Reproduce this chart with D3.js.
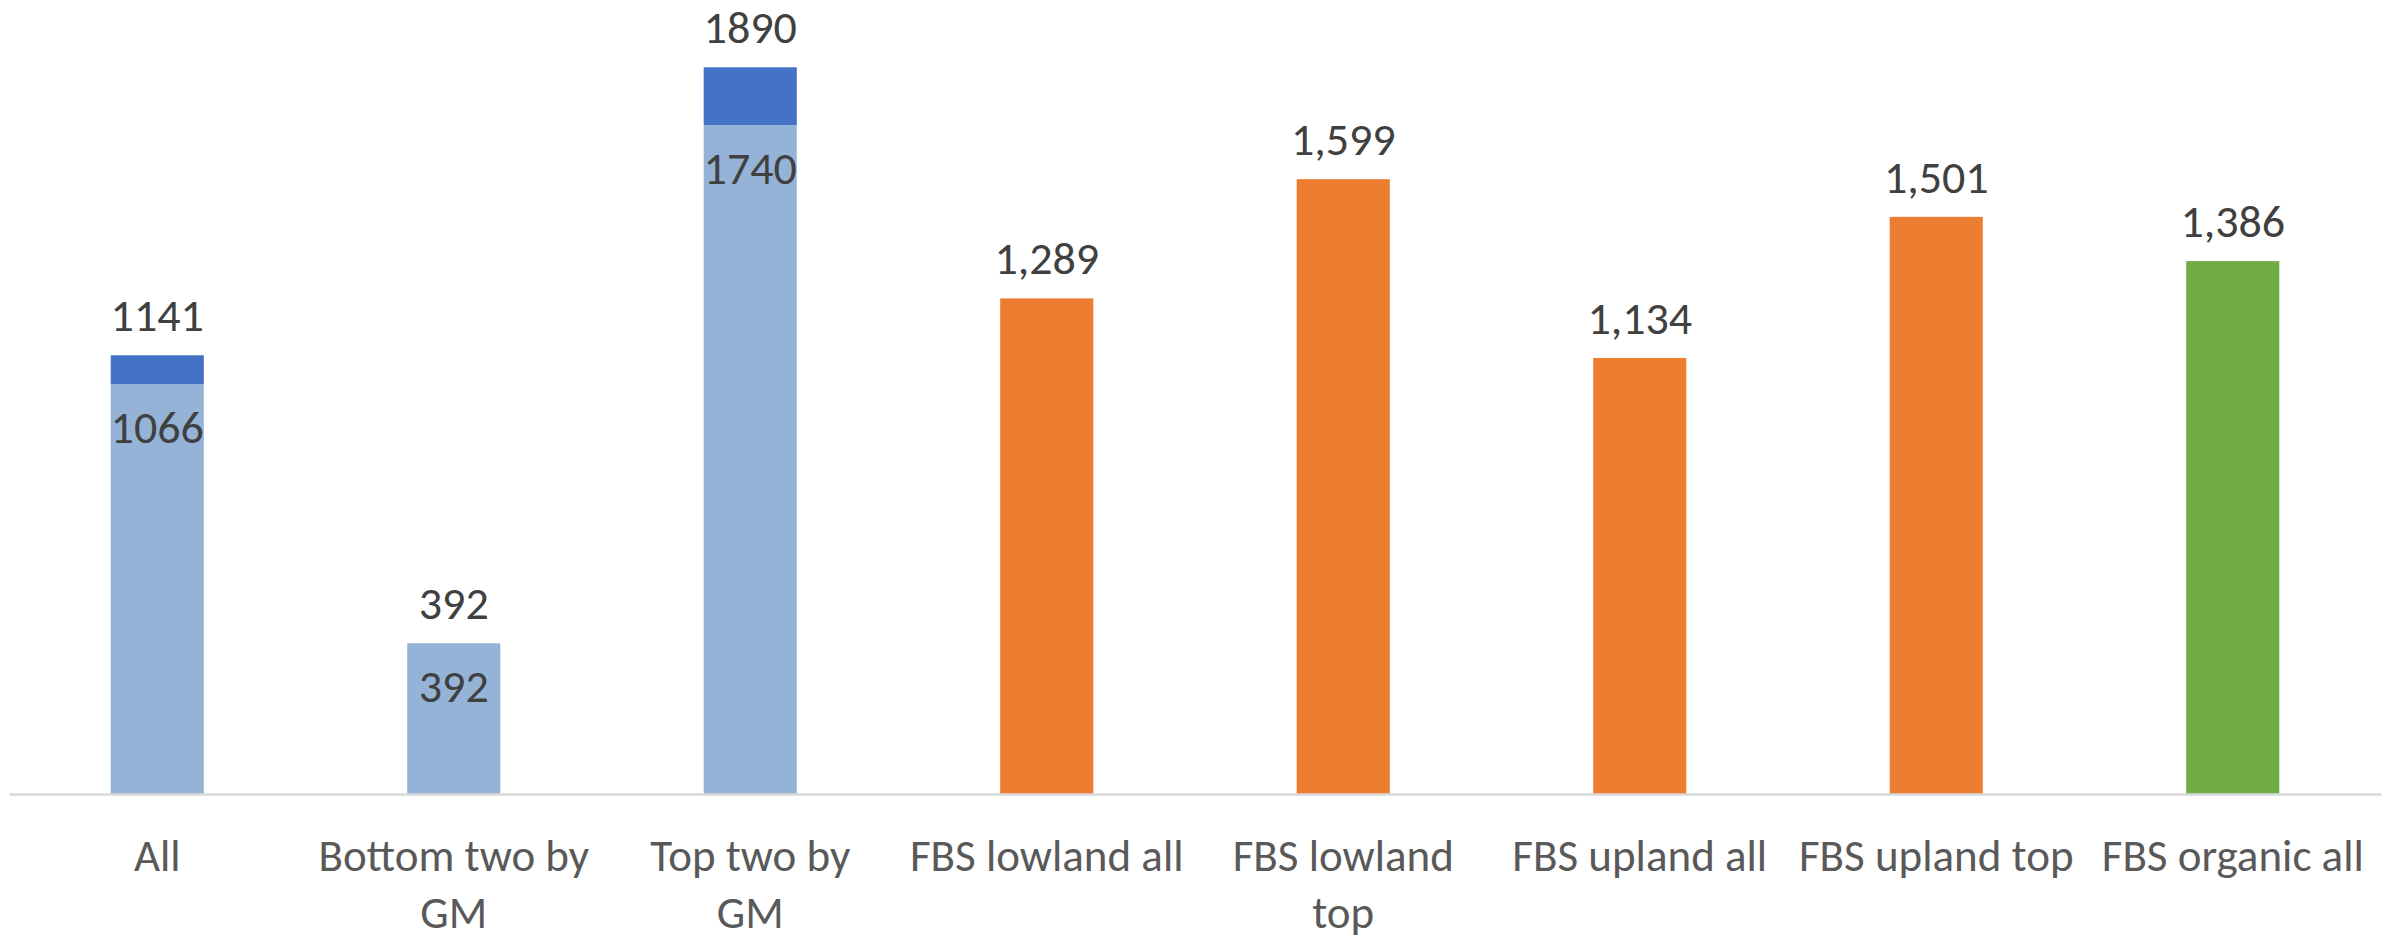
<!DOCTYPE html>
<html>
<head>
<meta charset="utf-8">
<script src="https://cdn.jsdelivr.net/npm/d3@7"></script>
<style>
  html, body { margin: 0; padding: 0; background: #fff; }
  svg text { font-family: Carlito, Calibri, Lato, sans-serif; }
</style>
</head>
<body>
<div id="chart"></div>
<script>
// categories and their wrapped tick labels
const categories = ["All", "Bottom two by GM", "Top two by GM", "FBS lowland all",
    "FBS lowland top", "FBS upland all", "FBS upland top", "FBS organic all"];
const tickLines = [["All"], ["Bottom two by", "GM"], ["Top two by", "GM"], ["FBS lowland all"],
    ["FBS lowland", "top"], ["FBS upland all"], ["FBS upland top"], ["FBS organic all"]];

// series values (null = no bar)
const lightBlue = [1066, 392, 1740, null, null, null, null, null];
const darkBlue = [75, 0, 150, null, null, null, null, null];
const orange = [null, null, null, 1289, 1599, 1134, 1501, null];
const green = [null, null, null, null, null, null, null, 1386];

const W = 2399, H = 939;
const fmtComma = d3.format(",");

const svg = d3.select("#chart").append("svg")
    .attr("width", W)
    .attr("height", H);

const x = d3.scaleBand()
    .domain(categories)
    .range([9, 2381])
    .paddingInner(0.686)
    .paddingOuter(0.343);

const y = d3.scaleLinear()
    .domain([0, 2000])
    .range([794, 25]);

// build bar segments from the arrays
const segs = [];
categories.forEach((c, i) => {
    if (lightBlue[i] != null) {
        segs.push({ c, y0: 0, y1: lightBlue[i], color: "#95b3d7" });
        if (darkBlue[i]) segs.push({ c, y0: lightBlue[i], y1: lightBlue[i] + darkBlue[i], color: "#4472c4" });
    }
    if (orange[i] != null) segs.push({ c, y0: 0, y1: orange[i], color: "#ed7d31" });
    if (green[i] != null) segs.push({ c, y0: 0, y1: green[i], color: "#70ad47" });
});

svg.selectAll(".bar")
    .data(segs)
    .join("rect")
    .attr("class", "bar")
    .attr("x", d => x(d.c))
    .attr("y", d => y(d.y1))
    .attr("width", x.bandwidth())
    .attr("height", d => y(d.y0) - y(d.y1))
    .attr("fill", d => d.color);

// axis line
const axis = svg.append("g")
    .attr("transform", `translate(0, ${y(0)})`)
    .call(d3.axisBottom(x).tickSize(0).tickFormat(""));
axis.select(".domain").attr("stroke", "#d9d9d9").attr("stroke-width", 2.5);

// labels above bars
const topLabels = categories.map((c, i) => {
    if (lightBlue[i] != null) {
        const t = lightBlue[i] + (darkBlue[i] || 0);
        return { c, v: t, text: String(t) };
    }
    const v = orange[i] != null ? orange[i] : green[i];
    return { c, v, text: fmtComma(v) };
});

svg.selectAll(".top-label")
    .data(topLabels)
    .join("text")
    .attr("class", "top-label")
    .attr("x", d => x(d.c) + x.bandwidth() / 2)
    .attr("y", d => y(d.v) - 24)
    .attr("text-anchor", "middle")
    .attr("fill", "#404040")
    .style("font-size", "46px")
    .text(d => d.text);

// labels inside the light blue segments
svg.selectAll(".inner-label")
    .data(categories.map((c, i) => ({ c, v: lightBlue[i] })).filter(d => d.v != null))
    .join("text")
    .attr("class", "inner-label")
    .attr("x", d => x(d.c) + x.bandwidth() / 2)
    .attr("y", d => y(d.v) + 59)
    .attr("text-anchor", "middle")
    .attr("fill", "#404040")
    .style("font-size", "46px")
    .text(d => String(d.v));

// category labels
const cat = svg.selectAll(".cat")
    .data(categories)
    .join("text")
    .attr("class", "cat")
    .attr("text-anchor", "middle")
    .attr("fill", "#595959")
    .style("font-size", "45px");

cat.selectAll("tspan")
    .data((d, i) => tickLines[i].map(t => ({ t, c: d })))
    .join("tspan")
    .attr("x", d => x(d.c) + x.bandwidth() / 2)
    .attr("y", (d, j) => 871 + j * 57)
    .text(d => d.t);
</script>
</body>
</html>
